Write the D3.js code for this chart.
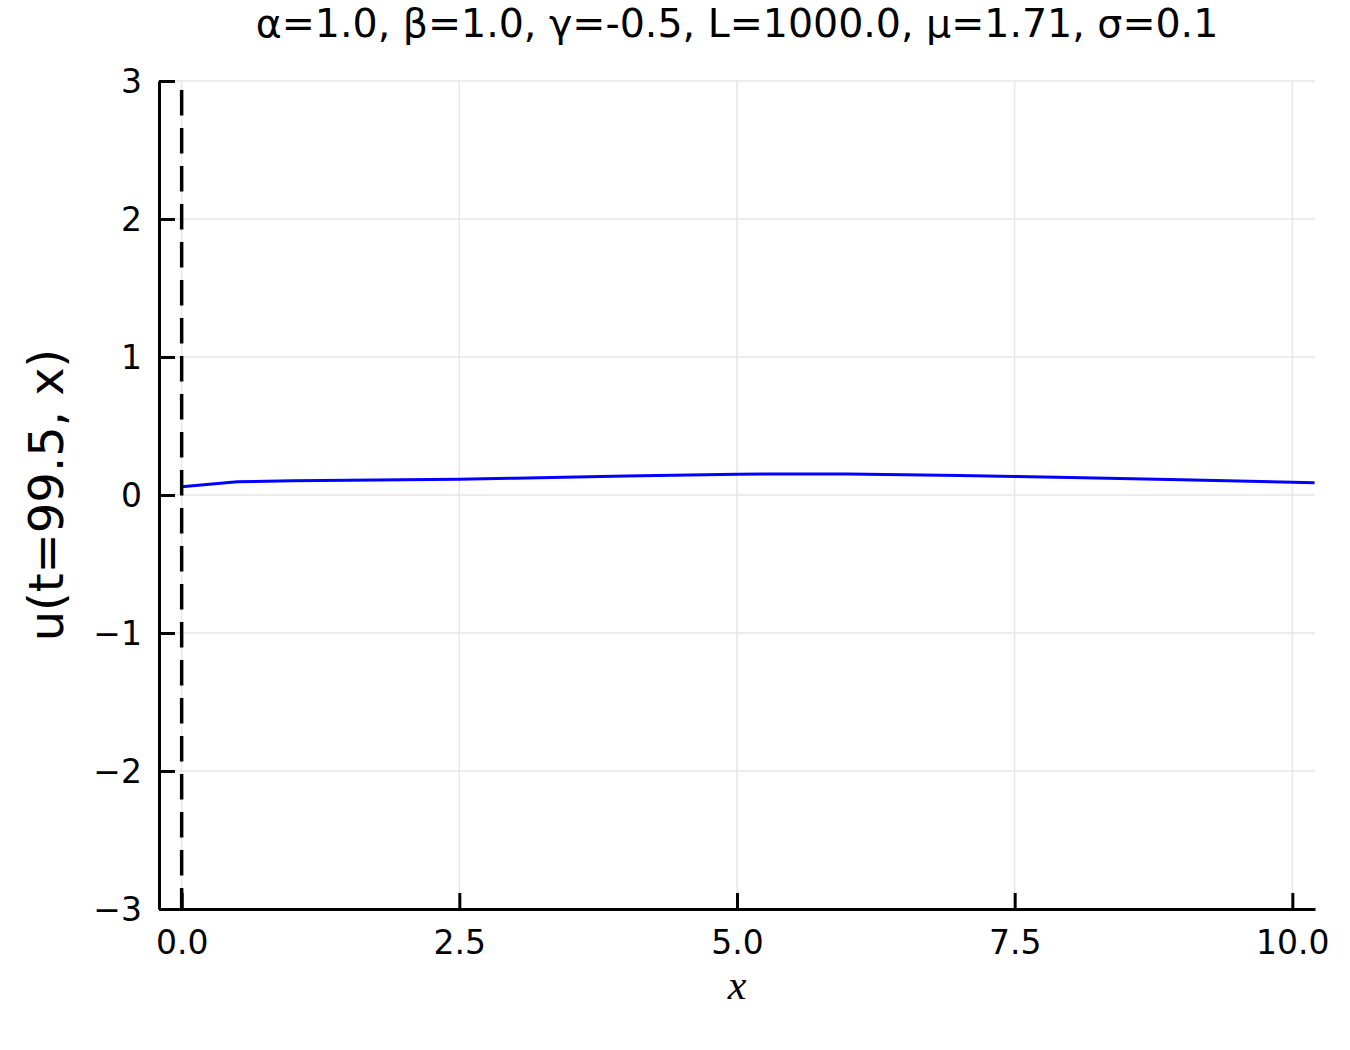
<!DOCTYPE html>
<html>
<head>
<meta charset="utf-8">
<script src="https://cdn.jsdelivr.net/npm/d3@7"></script>
<style>
  body { margin: 0; background: #fff; }
  text { font-family: "DejaVu Sans", sans-serif; fill: #000; }
</style>
</head>
<body>
<svg id="chart"></svg>
<script>
// profile u(t=99.5, x)
const xValues = [0, 0.5, 1.0, 2.0, 2.5, 3.0, 4.0, 5.0, 5.5, 6.0, 7.0, 7.5, 8.0, 9.0, 10.0, 10.2];
const uValues = [0.060, 0.096, 0.104, 0.110, 0.114, 0.122, 0.138, 0.150, 0.153, 0.152, 0.142, 0.134, 0.126, 0.110, 0.092, 0.088];
const xTicks = [0, 2.5, 5.0, 7.5, 10.0];
const yTicks = [-3, -2, -1, 0, 1, 2, 3];
const vlineX = [0];
const titleText = "α=1.0, β=1.0, γ=-0.5, L=1000.0, μ=1.71, σ=0.1";
const yLabel = "u(t=99.5, x)";
const xLabel = "x";

const data = xValues.map((x, i) => ({x: x, u: uValues[i]}));

const W = 1350, H = 1050;
const margin = {top: 81, right: 35, bottom: 141, left: 159};
const width = W - margin.left - margin.right;
const height = H - margin.top - margin.bottom;

const svg = d3.select('#chart')
    .attr('width', W)
    .attr('height', H);

const chart = svg.append('g')
    .attr('transform', `translate(${margin.left},${margin.top})`);

const xScale = d3.scaleLinear()
    .domain([-0.204, 10.204])
    .range([0, width]);

const yScale = d3.scaleLinear()
    .domain([-3, 3])
    .range([height, 0]);

// grid
chart.append('g')
    .selectAll('line.gx')
    .data(xTicks)
  .join('line')
    .attr('x1', d => xScale(d)).attr('x2', d => xScale(d))
    .attr('y1', 0).attr('y2', height)
    .attr('stroke', '#e6e6e6').attr('stroke-width', 1.5);

chart.append('g')
    .selectAll('line.gy')
    .data(yTicks)
  .join('line')
    .attr('x1', 0).attr('x2', width)
    .attr('y1', d => yScale(d)).attr('y2', d => yScale(d))
    .attr('stroke', '#e6e6e6').attr('stroke-width', 1.5);

// axes, ticks pointing inward
const xAxis = d3.axisBottom(xScale)
    .tickValues(xTicks)
    .tickSize(-16)
    .tickSizeOuter(0)
    .tickPadding(22)
    .tickFormat(d3.format('.1f'));

const yAxis = d3.axisLeft(yScale)
    .tickValues(yTicks)
    .tickSize(-16)
    .tickSizeOuter(0)
    .tickPadding(17)
    .tickFormat(d3.format('d'));

const xAxisG = chart.append('g')
    .attr('transform', `translate(0,${height})`)
    .call(xAxis);

const yAxisG = chart.append('g')
    .call(yAxis);

[xAxisG, yAxisG].forEach(g => {
  g.select('.domain').attr('stroke', '#000').attr('stroke-width', 3);
  g.selectAll('.tick line').attr('stroke', '#000').attr('stroke-width', 3);
  g.selectAll('.tick text')
      .style('font-family', '"DejaVu Sans", sans-serif')
      .style('font-size', '33px')
      .attr('fill', '#000');
});
yAxisG.selectAll('.tick text').attr('dy', '0.36em');

// data line
const line = d3.line()
    .x(d => xScale(d.x))
    .y(d => yScale(d.u));

chart.append('clipPath').attr('id', 'clip')
  .append('rect').attr('width', width).attr('height', height);

chart.append('path')
    .datum(data)
    .attr('clip-path', 'url(#clip)')
    .attr('d', line)
    .attr('fill', 'none')
    .attr('stroke', '#0000ff')
    .attr('stroke-width', 3);

// dashed marker at x = 0
chart.selectAll('.vline')
    .data(vlineX)
  .join('line')
    .attr('class', 'vline')
    .attr('x1', d => xScale(d)).attr('x2', d => xScale(d))
    .attr('y1', yScale(3) + 9).attr('y2', height)
    .attr('stroke', '#000')
    .attr('stroke-width', 3.5)
    .attr('stroke-dasharray', '25.5,12.5');

// title and labels
svg.append('text')
    .attr('x', margin.left + width / 2)
    .attr('y', 37)
    .attr('text-anchor', 'middle')
    .style('font-size', '39.5px')
    .text(titleText);

svg.append('text')
    .attr('transform', `translate(63,${margin.top + height / 2}) rotate(-90)`)
    .attr('text-anchor', 'middle')
    .style('font-size', '48px')
    .text(yLabel);

svg.append('text')
    .attr('x', margin.left + width / 2)
    .attr('y', 999)
    .attr('text-anchor', 'middle')
    .style('font-family', '"Liberation Serif", serif')
    .style('font-style', 'italic')
    .style('font-size', '42px')
    .text(xLabel);
</script>
</body>
</html>
